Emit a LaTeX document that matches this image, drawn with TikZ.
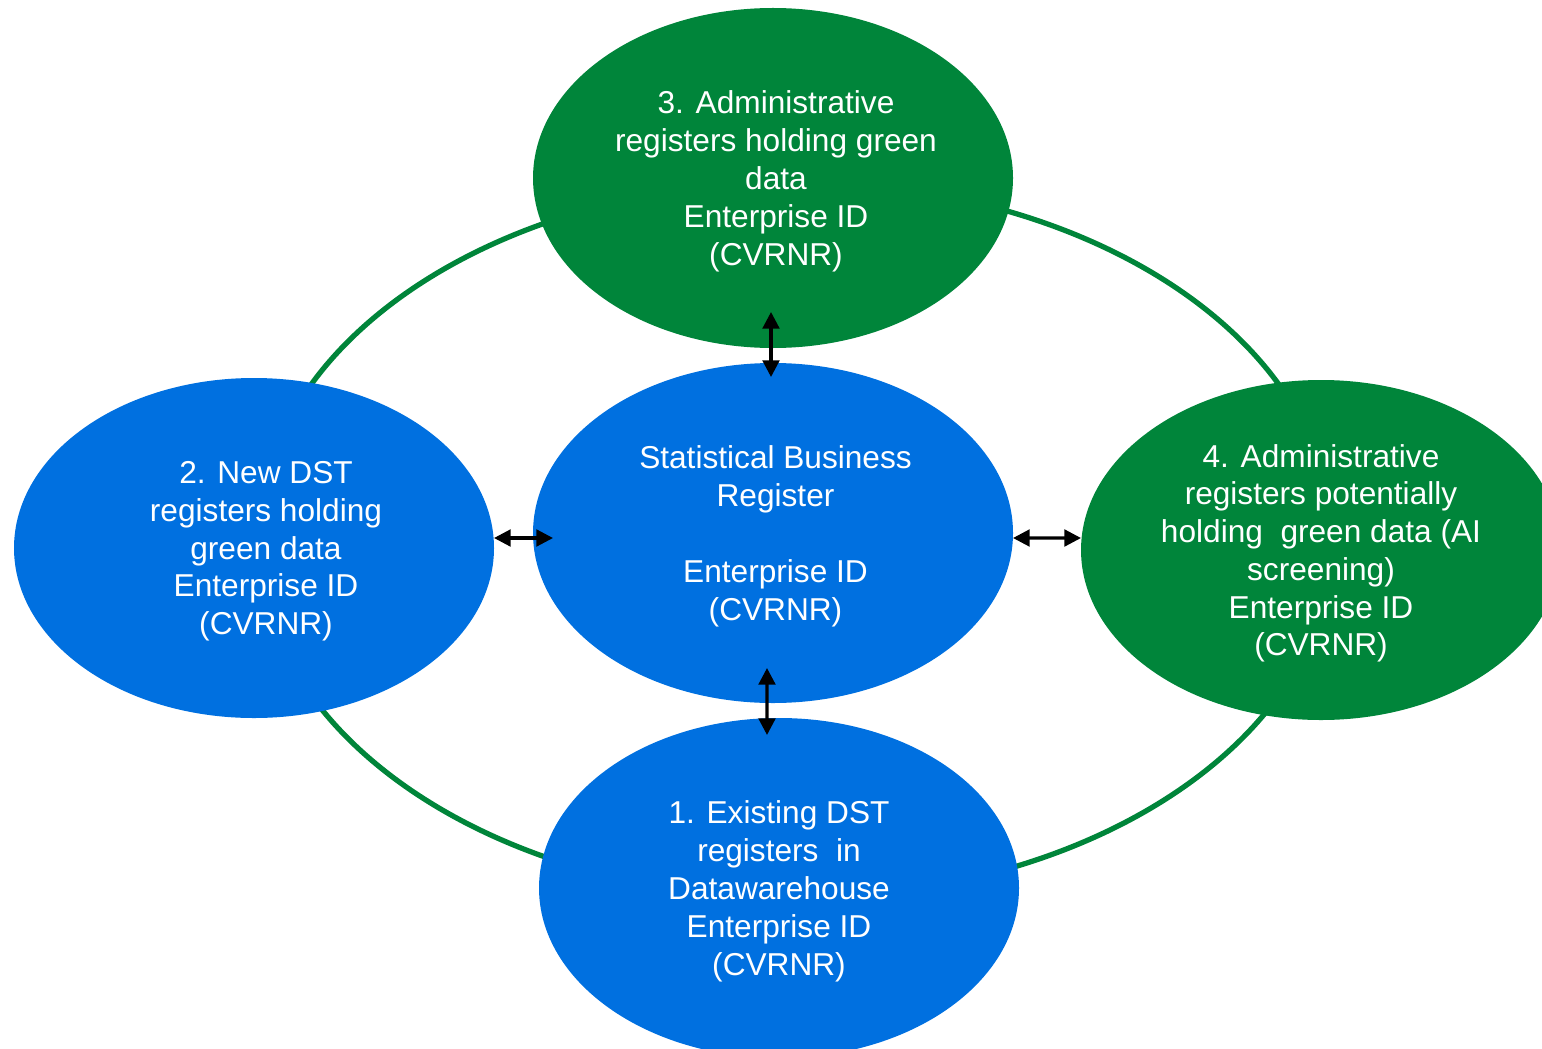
\documentclass[tikz,border=0pt]{standalone}
\usepackage{fontspec}
\setmainfont{Liberation Sans}
\usetikzlibrary{positioning, shapes.geometric, arrows.meta, backgrounds}
\definecolor{colorGreen}{RGB}{0,133,58}
\definecolor{colorBlue}{RGB}{0,112,224}

\begin{document}
\begin{tikzpicture}[
    reg/.style={ellipse, minimum width=9.6cm, minimum height=6.8cm, inner sep=0pt, outer sep=0pt,
                align=center, text=white, font=\fontsize{18}{21.5}\selectfont, text depth=-4.4pt},
    bluereg/.style={reg, fill=colorBlue},
    greenreg/.style={reg, fill=colorGreen},
    link/.style={{Triangle[length=9.5pt, width=9.5pt]}-{Triangle[length=9.5pt, width=9.5pt]}, line width=1.8pt, color=black},
    ring/.style={draw=colorGreen, line width=3pt}
]

\useasboundingbox (0,0) rectangle (30.84,-20.96);
\clip (0,0) rectangle (30.84,-20.96);

% Central register
\node[bluereg] (SBR) at (15.46,-10.66) {\hspace*{0.1cm}Statistical Business\\
\hspace*{0.1cm}Register\\[21.5pt]
\hspace*{0.1cm}Enterprise ID\\
\hspace*{0.1cm}(CVRNR)};

% Surrounding registers
\node[greenreg, above=0.3cm of SBR] (Admin) {\hspace*{0.12cm}3. Administrative\\
\hspace*{0.12cm}registers holding green\\
\hspace*{0.12cm}data\\
\hspace*{0.12cm}Enterprise ID\\
\hspace*{0.12cm}(CVRNR)};

\node[bluereg, below=0.3cm of SBR, xshift=0.12cm] (Existing) {1. Existing DST\\
registers~~in\\
Datawarehouse\\
Enterprise ID\\
(CVRNR)};

\node[bluereg, left=0.78cm of SBR, yshift=-0.3cm] (NewDST) {\hspace*{0.48cm}2. New DST\\
\hspace*{0.48cm}registers holding\\
\hspace*{0.48cm}green data\\
\hspace*{0.48cm}Enterprise ID\\
\hspace*{0.48cm}(CVRNR)};

\node[greenreg, right=1.36cm of SBR, yshift=-0.34cm] (AdminAI) {4. Administrative\\
registers potentially\\
holding~~green data (AI\\
screening)\\
Enterprise ID\\
(CVRNR)};

% Arrows
\draw[link] ([xshift=-0.04cm, yshift=0.72cm]Admin.south) -- ([xshift=-0.04cm, yshift=-0.28cm]SBR.north);
\draw[link] ([xshift=-0.12cm, yshift=0.7cm]SBR.south) -- ([xshift=-0.24cm, yshift=-0.34cm]Existing.north);
\draw[link] ([yshift=0.2cm]NewDST.east) -- ([xshift=0.4cm, yshift=-0.1cm]SBR.west);
\draw[link] ([yshift=-0.1cm]SBR.east) -- ([yshift=0.24cm]AdminAI.west);

% Green ring behind the registers
\begin{scope}[on background layer]
    \draw[ring] (15.9,-10.8) ellipse [x radius=10.74cm, y radius=7.16cm];
\end{scope}

\end{tikzpicture}
\end{document}
